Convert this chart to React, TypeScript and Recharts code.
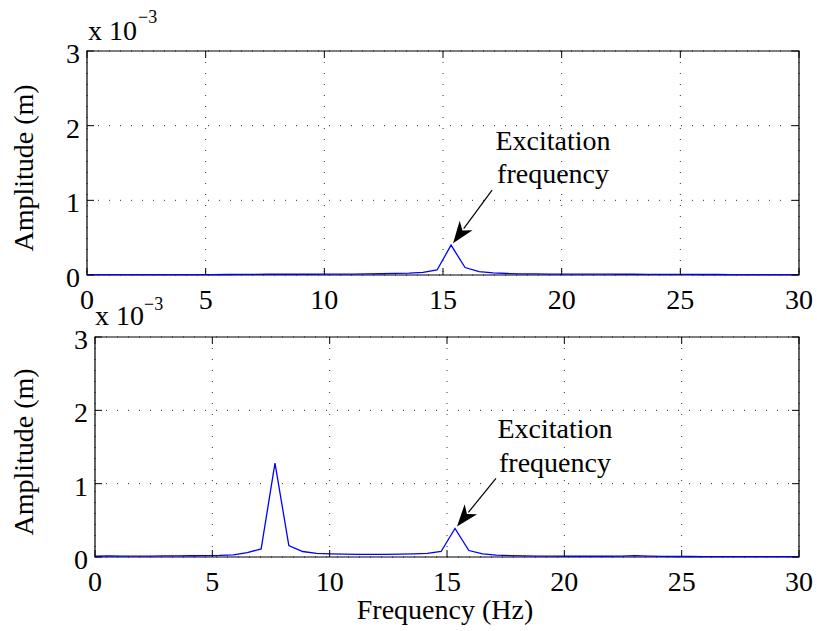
import React from "react";
import {
  LineChart,
  Line,
  XAxis,
  YAxis,
  CartesianGrid,
  ReferenceArea,
  ReferenceDot,
} from "recharts";

// FFT bins (Hz), amplitudes in units of 1e-3 m
const freqHz = [
  0, 0.59, 1.18, 1.77, 2.36, 2.95, 3.54, 4.13, 4.72, 5.31, 5.9, 6.49, 7.08,
  7.67, 8.26, 8.85, 9.44, 10.03, 10.62, 11.21, 11.8, 12.39, 12.98, 13.57,
  14.16, 14.75, 15.34, 15.93, 16.52, 17.11, 17.7, 18.29, 18.88, 19.47, 20.06,
  20.65, 21.24, 21.83, 22.42, 23.01, 23.6, 24.19, 24.78, 25.37, 25.96, 26.55,
  27.14, 27.73, 28.32, 28.91, 29.5, 30.09,
];

const topAmp = [
  0.004, 0.004, 0.004, 0.005, 0.005, 0.005, 0.005, 0.006, 0.006, 0.006, 0.007,
  0.008, 0.009, 0.01, 0.01, 0.01, 0.01, 0.011, 0.012, 0.013, 0.015, 0.017,
  0.021, 0.026, 0.036, 0.067, 0.4, 0.1, 0.045, 0.028, 0.02, 0.016, 0.014,
  0.013, 0.012, 0.012, 0.011, 0.011, 0.01, 0.01, 0.009, 0.009, 0.008, 0.008,
  0.007, 0.007, 0.006, 0.006, 0.005, 0.005, 0.005, 0.005,
];

const bottomAmp = [
  0.01, 0.015, 0.012, 0.012, 0.013, 0.014, 0.015, 0.017, 0.019, 0.022, 0.03,
  0.06, 0.11, 1.28, 0.155, 0.075, 0.05, 0.042, 0.038, 0.036, 0.035, 0.036,
  0.038, 0.042, 0.05, 0.075, 0.39, 0.088, 0.042, 0.025, 0.018, 0.014, 0.012,
  0.011, 0.01, 0.01, 0.01, 0.01, 0.012, 0.018, 0.011, 0.008, 0.007, 0.007,
  0.006, 0.006, 0.006, 0.006, 0.005, 0.005, 0.005, 0.005,
];

const xTicks = [0, 5, 10, 15, 20, 25, 30];
const yTicks = [0, 1, 2, 3];

const data = freqHz.map((f, i) => ({ f, top: topAmp[i], bottom: bottomAmp[i] }));

const FONT = "'Liberation Serif', 'Times New Roman', Times, 'DejaVu Serif', serif";
const txt = { fontFamily: FONT, fontSize: 28 };
const W = 817;

function Arrow({ cx, cy, tail, text }: any) {
  const tip = { x: cx + 2, y: cy - 2 };
  const tx = cx + tail[0];
  const ty = cy + tail[1];
  const len = Math.hypot(tx - tip.x, ty - tip.y);
  const ux = (tx - tip.x) / len;
  const uy = (ty - tip.y) / len;
  const nx = -uy;
  const ny = ux;
  const L = 22;
  const hw = 8;
  const bx = tip.x + ux * L;
  const by = tip.y + uy * L;
  const pts = [
    [tip.x, tip.y],
    [bx + nx * hw, by + ny * hw],
    [tip.x + ux * L * 0.72, tip.y + uy * L * 0.72],
    [bx - nx * hw, by - ny * hw],
  ]
    .map((p) => p.join(","))
    .join(" ");
  return (
    <g>
      <line x1={tx} y1={ty} x2={bx - ux * 4} y2={by - uy * 4} stroke="#000" strokeWidth={1.2} />
      <polygon points={pts} fill="#000" />
      <text x={cx + text[0]} y={cy + text[1]} textAnchor="middle" style={txt} fill="#000">
        Excitation
      </text>
      <text x={cx + text[0]} y={cy + text[2]} textAnchor="middle" style={txt} fill="#000">
        frequency
      </text>
    </g>
  );
}

function Panel({ dataKey, height, top, left, plotH, plotW, peak, tail, text }: any) {
  const xTick = ({ x, y, payload }: any) => (
    <g>
      <line x1={x} y1={y} x2={x} y2={y - 7} stroke="#000" />
      <line x1={x} y1={y - plotH} x2={x} y2={y - plotH + 7} stroke="#000" />
      <text x={x} y={y + 34} textAnchor="middle" style={txt} fill="#000">
        {payload.value}
      </text>
    </g>
  );
  const yTick = ({ x, y, payload }: any) => (
    <g>
      <line x1={x} y1={y} x2={x + 7} y2={y} stroke="#000" />
      <line x1={x + plotW} y1={y} x2={x + plotW - 7} y2={y} stroke="#000" />
      <text x={x - 7} y={y + 12} textAnchor="end" style={txt} fill="#000">
        {payload.value}
      </text>
    </g>
  );
  return (
    <LineChart
      width={W}
      height={height}
      data={data}
      margin={{ top, right: 18, bottom: 0, left: 0 }}
    >
      <CartesianGrid stroke="#333" strokeDasharray="1 10" />
      <XAxis
        dataKey="f"
        type="number"
        domain={[0, 30]}
        ticks={xTicks}
        allowDataOverflow
        axisLine={false}
        tickLine={false}
        tickSize={0}
        tickMargin={0}
        height={height - top - plotH}
        tick={xTick}
      />
      <YAxis
        type="number"
        domain={[0, 3]}
        ticks={yTicks}
        axisLine={false}
        tickLine={false}
        tickSize={0}
        tickMargin={0}
        width={left}
        tick={yTick}
      />
      <ReferenceArea x1={0} x2={30} y1={0} y2={3} fill="none" stroke="#000" strokeWidth={1.2} />
      <Line
        type="linear"
        dataKey={dataKey}
        stroke="#0000ff"
        strokeWidth={1.3}
        dot={false}
        isAnimationActive={false}
      />
      <ReferenceDot
        x={peak[0]}
        y={peak[1]}
        r={0}
        shape={(p: any) => <Arrow cx={p.cx} cy={p.cy} tail={tail} text={text} />}
      />
    </LineChart>
  );
}

export default function App() {
  return (
    <div style={{ position: "absolute", left: 0, top: 0, width: W, height: 631, background: "#fff", fontFamily: FONT }}>
      <div style={{ position: "absolute", left: 0, top: 0 }}>
        <Panel
          dataKey="top"
          height={320}
          top={51}
          left={87}
          plotH={224}
          plotW={712}
          peak={[15.34, 0.4]}
          tail={[41, -55]}
          text={[102, -95, -62]}
        />
      </div>
      <div style={{ position: "absolute", left: 0, top: 0 }}>
        <Panel
          dataKey="bottom"
          height={631}
          top={337}
          left={95}
          plotH={220}
          plotW={704}
          peak={[15.34, 0.39]}
          tail={[41, -50]}
          text={[100, -90, -56]}
        />
      </div>
      <svg
        width={W}
        height={631}
        style={{ position: "absolute", left: 0, top: 0, pointerEvents: "none", fontFamily: FONT }}
        fill="#000"
      >
        <text x={88} y={40} style={txt}>x 10</text>
        <text x={138} y={23} style={{ fontFamily: FONT, fontSize: 18 }}>−3</text>
        <text x={95} y={325} style={txt}>x 10</text>
        <text x={144} y={310} style={{ fontFamily: FONT, fontSize: 18 }}>−3</text>
        <text transform="translate(33,168) rotate(-90)" textAnchor="middle" style={txt}>
          Amplitude (m)
        </text>
        <text transform="translate(33,452) rotate(-90)" textAnchor="middle" style={txt}>
          Amplitude (m)
        </text>
        <text x={445} y={619} textAnchor="middle" style={txt}>
          Frequency (Hz)
        </text>
      </svg>
    </div>
  );
}
